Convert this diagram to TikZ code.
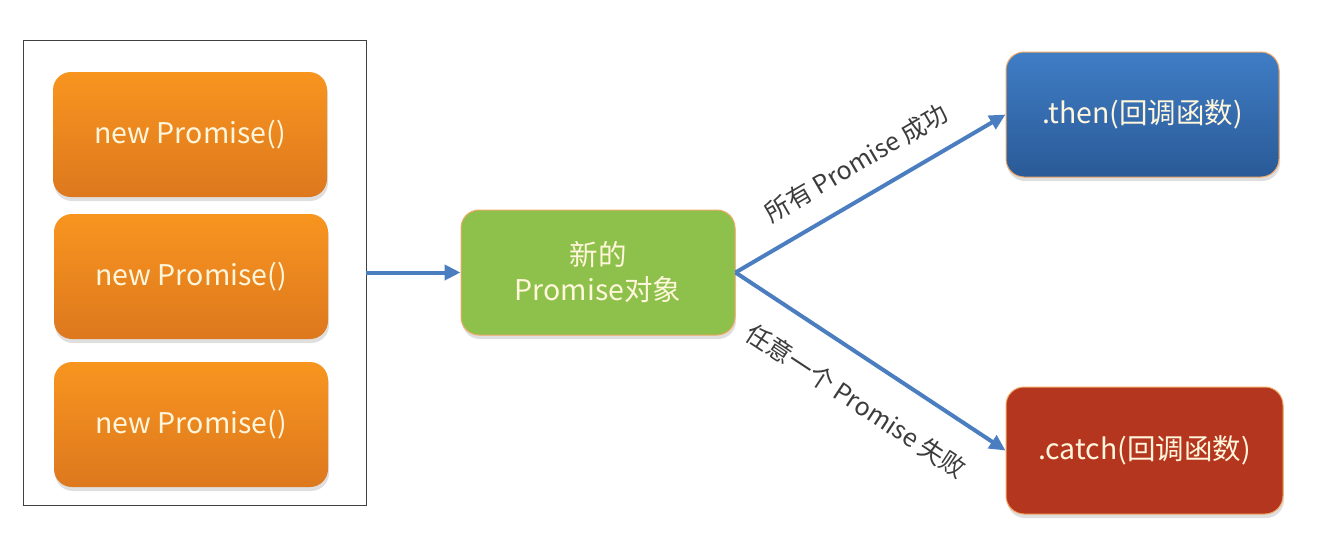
\documentclass[tikz,border=0pt]{standalone}
\usepackage{fontspec}
\setmainfont{Noto Sans CJK SC}
\usetikzlibrary{shadows,arrows.meta}
\definecolor{orTop}{HTML}{F8951F}
\definecolor{orBot}{HTML}{DD781E}
\definecolor{grFill}{HTML}{8DC14B}
\definecolor{blTop}{HTML}{3F7DC5}
\definecolor{blBot}{HTML}{2A5A97}
\definecolor{rdFill}{HTML}{B5361F}
\definecolor{bdOr}{HTML}{EFA965}
\definecolor{arrowBlue}{HTML}{4A7EC0}
\definecolor{txtCream}{HTML}{FFF6DC}
\definecolor{lblGray}{HTML}{3C3C3C}
\tikzset{
  boxbase/.style={rounded corners=18pt, inner sep=0pt, text=txtCream, font=\fontsize{28.5}{35}\selectfont, align=center,
    drop shadow={opacity=0.25, shadow xshift=1pt, shadow yshift=-4pt}},
  probox/.style={boxbase, minimum width=274pt, minimum height=125pt, top color=orTop, bottom color=orBot, draw=none},
  greenbox/.style={boxbase, minimum width=274pt, minimum height=125pt, fill=grFill, draw=bdOr, line width=1pt},
  bluebox/.style={boxbase, minimum width=273pt, minimum height=125pt, top color=blTop, bottom color=blBot, draw=bdOr, line width=1pt},
  redbox/.style={boxbase, minimum width=277pt, minimum height=127pt, fill=rdFill, draw=bdOr, line width=1pt},
  frame/.style={draw=black!75, line width=0.8pt, minimum width=343pt, minimum height=465pt, inner sep=0pt},
  conn/.style={draw=arrowBlue, line width=4pt, -{Triangle[length=16pt,width=15pt]}},
  lbl/.style={text=lblGray, font=\fontsize{25}{29}\selectfont, inner sep=0pt, sloped}
}
\begin{document}
\begin{tikzpicture}[x=1pt,y=-1pt]
\useasboundingbox[fill=white] (0,0) rectangle (1321,555);
\node[frame] (outer) at (194.5,272.5) {};
\node[probox] (p1) at (190,134.5) {new Promise()};
\node[probox] (p2) at (191,276.5) {new Promise()};
\node[probox] (p3) at (191,424.5) {new Promise()};
\node[greenbox] (g) at (598,272.5) {新的\\Promise对象};
\node[bluebox] (b) at (1142.5,114.5) {.then(回调函数)};
\node[redbox] (r) at (1144.5,450.5) {.catch(回调函数)};
\draw[conn] (outer.east) -- (g.west);
\draw[conn] (g.east) -- (b.west) node[lbl, pos=0.51, above=20pt] {所有 Promise 成功};
\draw[conn] (g.east) -- (r.west) node[lbl, pos=0.53, below=27pt] {任意一个 Promise 失败};
\end{tikzpicture}
\end{document}
